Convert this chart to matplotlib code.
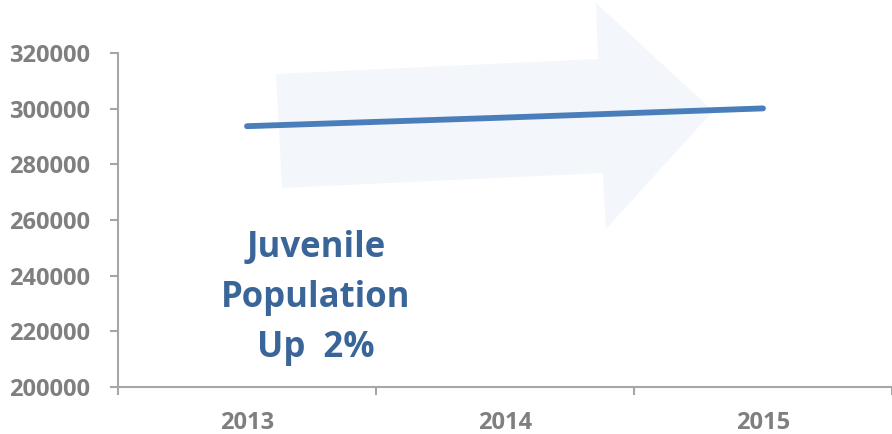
import matplotlib
matplotlib.use("Agg")
import matplotlib.pyplot as plt
from matplotlib.patches import Polygon
import numpy as np

# juvenile population by year
years = ["2013", "2014", "2015"]
population = [293700, 296800, 300100]
y_ticks = [200000, 220000, 240000, 260000, 280000, 300000, 320000]

W, H = 892, 434
fig = plt.figure(figsize=(W / 100, H / 100), dpi=100)
ax = fig.add_axes([118 / W, 1 - 387 / H, 1 - 118 / W, (387 - 53) / H])

# big pale arrow behind the line (figure pixel coords, y from top)
arrow_px = [(276, 74), (598, 59), (596, 3), (713, 111), (606, 229),
            (603, 173), (282, 188)]
arrow_fig = [(x / W, 1 - y / H) for x, y in arrow_px]
ax.add_patch(Polygon(arrow_fig, closed=True, transform=fig.transFigure,
                     facecolor="#f3f6fb", edgecolor="none", zorder=1,
                     clip_on=False))

x = np.arange(len(years))
ax.plot(x, population, color="#4a7ebb", lw=4.2, solid_capstyle="round", zorder=3)

ax.set_xlim(-0.5, 2.5)
ax.set_ylim(200000, 320000)

grey = "#a6a6a6"
for s in ["top", "right"]:
    ax.spines[s].set_visible(False)
for s in ["left", "bottom"]:
    ax.spines[s].set_color(grey)
    ax.spines[s].set_linewidth(1.5)

lab_font = dict(family="Open Sans", weight="bold", size=17, color="#7f7f7f")
ax.set_yticks(y_ticks)
ax.set_yticklabels([str(v) for v in y_ticks], **lab_font)
ax.tick_params(axis="y", direction="out", length=6, width=1.5, color=grey, pad=14)

ax.set_xticks(x)
ax.set_xticklabels(years, **lab_font)
ax.set_xticks(np.arange(-0.5, 3.0, 1.0), minor=True)
ax.tick_params(axis="x", which="major", length=0, pad=17)
ax.tick_params(axis="x", which="minor", direction="out", length=6, width=1.5, color=grey)

fig.text(316 / W, 1 - 298 / H, "Juvenile\nPopulation\nUp  2%", ha="center", va="center",
         family="Open Sans", weight="bold", fontsize=25, color="#3a6598",
         linespacing=1.5)

fig.savefig("out.png", dpi=100)
